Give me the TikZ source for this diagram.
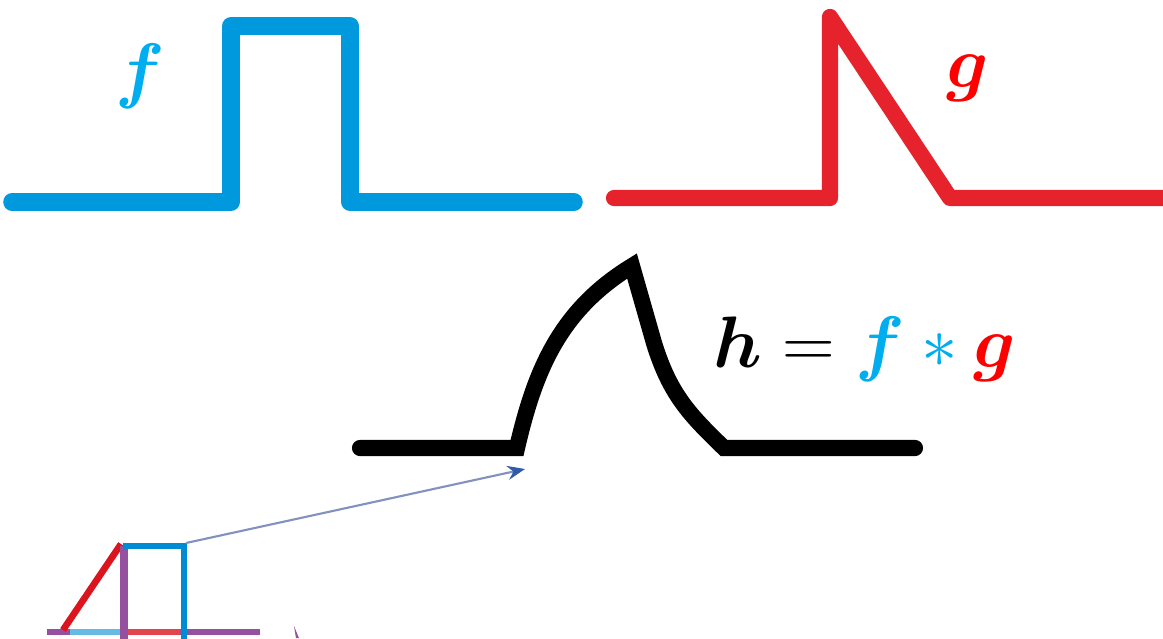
\documentclass[tikz,border=0pt]{standalone}
\usepackage{amsmath}
\usepackage{bm}
\usetikzlibrary{arrows.meta}
\definecolor{fblue}{RGB}{0,153,221}
\definecolor{flabel}{RGB}{0,174,239}
\definecolor{gred}{RGB}{230,35,45}
\definecolor{glabel}{RGB}{255,0,0}
\definecolor{arrowc}{RGB}{130,145,190}
\definecolor{arrowtip}{RGB}{50,90,170}
\definecolor{spurple}{RGB}{150,80,160}
\definecolor{sred}{RGB}{220,20,30}
\definecolor{sblue}{RGB}{0,140,210}
\tikzset{
  bigcurve/.style={line width=5pt, line join=round, line cap=round},
  smallline/.style={line width=1.9pt},
  lbl/.style={inner sep=0pt, font=\fontsize{20}{24}\selectfont},
}
\begin{document}
\begin{tikzpicture}[x=0.01cm, y=-0.01cm]
\useasboundingbox (0,0) rectangle (1163,638);
% f
\draw[bigcurve, fblue] (12,202) -- (231,202) -- (231,26) -- (350,26) -- (350,202) -- (574,202);
\node[lbl, text=flabel] (flab) at (140,76) {$\bm{f}$};
% g
\draw[bigcurve, gred, line width=4.6pt] (614,198) -- (830,198) -- (830,17) -- (950,198) -- (1175,198);
\node[lbl, text=glabel] (glab) at (968,78) {$\bm{g}$};
% h
\draw[bigcurve, black, line width=4.6pt, line join=miter] (360,448) -- (517,448)
  .. controls (535,370) and (560,310) .. (632,266)
  -- (654,343) .. controls (670,395) and (690,415) .. (724,448) -- (915,448);
\node[lbl, anchor=base west] (hlab) at (713,367)
  {$\bm{h}=\textcolor{flabel}{\bm{f}}\mathbin{\textcolor{flabel}{*}}\textcolor{glabel}{\bm{g}}$};
% small sketch
\draw[smallline, spurple] (47,632) -- (260,632);
\draw[smallline, sblue!60] (70,632) -- (120,632);
\draw[smallline, sred!80] (127,632) -- (180,632);
\draw[smallline, sred] (63,630) -- (121,544);
\draw[smallline, spurple, line width=2.3pt] (124,546) -- (124,640);
\draw[smallline, sblue] (123,546) -- (184,546) -- (184,640);
\fill[spurple] (294,626) -- (299,638) -- (296,638) -- cycle;
% arrow
\coordinate (a1) at (186,543);
\coordinate (a2) at (525,469);
\draw[arrowc, line width=0.6pt, -{Stealth[length=5pt,width=4pt,color=arrowtip]}] (a1) -- (a2);
\end{tikzpicture}
\end{document}
